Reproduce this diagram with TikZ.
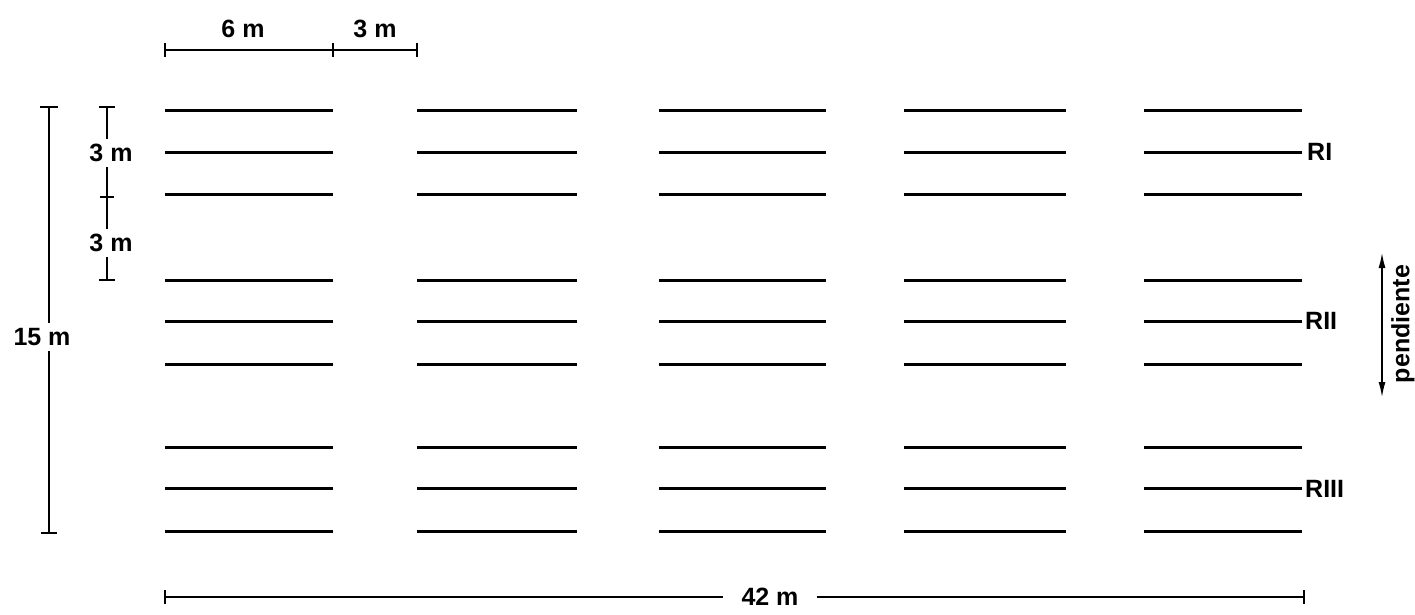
\documentclass[tikz,border=0pt]{standalone}
\usepackage{fontspec}
\setmainfont{Liberation Sans}
\usetikzlibrary{arrows.meta}
\begin{document}
\begin{tikzpicture}[x=1pt,y=-1pt,
  plotline/.style={line width=3pt},
  dimline/.style={line width=1.1pt},
  dimtick/.style={line width=1.2pt},
  lab/.style={font=\fontsize{25}{28}\selectfont\bfseries, inner sep=1pt},
]
\useasboundingbox (0,0) rectangle (1415,615);
% plot lines
\foreach \y in {111,152,194,280,321,364,447,488,531}{
  \foreach \xa/\xb in {165/333,417/577,659/826,904/1066,1144/1302}{
    \draw[plotline] (\xa,\y) -- (\xb,\y);
  }
}
% top dimension
\node[lab] (six) at (243,29) {6 m};
\node[lab] (three) at (375,29) {3 m};
\coordinate (t1) at (165,50);
\coordinate (t2) at (333,50);
\coordinate (t3) at (417,50);
\draw[dimline] (t1) -- (t2) -- (t3);
\foreach \p in {t1,t2,t3}{\draw[dimtick] ([yshift=-7pt]\p) -- ([yshift=7pt]\p);}
% left small dimension
\node[lab, inner ysep=5pt] (sa) at (111,153) {3 m};
\node[lab, inner ysep=5pt] (sb) at (111,243) {3 m};
\coordinate (s0) at (107,107);
\coordinate (s1) at (107,197);
\coordinate (s2) at (107,280);
\draw[dimline] (s0) -- (sa.north -| s0);
\draw[dimline] (sa.south -| s0) -- (sb.north -| s0);
\draw[dimline] (sb.south -| s0) -- (s2);
\draw[dimtick] ([xshift=-8pt]s0) -- ([xshift=8pt]s0);
\draw[dimtick] ([xshift=-7pt]s1) -- ([xshift=7pt]s1);
\draw[dimtick] ([xshift=-8pt]s2) -- ([xshift=8pt]s2);
% big left dimension
\node[lab, inner ysep=5pt] (fifteen) at (42,337) {15 m};
\coordinate (b0) at (49,107);
\coordinate (b1) at (49,533);
\draw[line width=2pt] (b0) -- (fifteen.north -| b0);
\draw[line width=2pt] (fifteen.south -| b1) -- (b1);
\draw[dimtick] ([xshift=-9pt]b0) -- ([xshift=9pt]b0);
\draw[dimtick] ([xshift=-8pt]b1) -- ([xshift=8pt]b1);
% bottom dimension
\node[lab, inner xsep=18pt] (ft) at (770,597) {42 m};
\coordinate (h0) at (165,597);
\coordinate (h1) at (1304,597);
\draw[dimline] (h0) -- (ft.west);
\draw[dimline] (ft.east) -- (h1);
\draw[dimtick] ([yshift=-7pt]h0) -- ([yshift=7pt]h0);
\draw[dimtick] ([yshift=-7pt]h1) -- ([yshift=7pt]h1);
% right labels
\node[lab, anchor=west] (r1) at (1306,152) {RI};
\node[lab, anchor=west] (r2) at (1304,321) {RII};
\node[lab, anchor=west] (r3) at (1304,489) {RIII};
% pendiente
\coordinate (p0) at (1382,253);
\coordinate (p1) at (1382,397);
\draw[line width=1.3pt, {Latex[length=15pt,width=7pt]}-{Latex[length=15pt,width=7pt]}] (p0) -- (p1);
\node[lab, rotate=90] (pend) at (1403,324) {pendiente};
\end{tikzpicture}
\end{document}
